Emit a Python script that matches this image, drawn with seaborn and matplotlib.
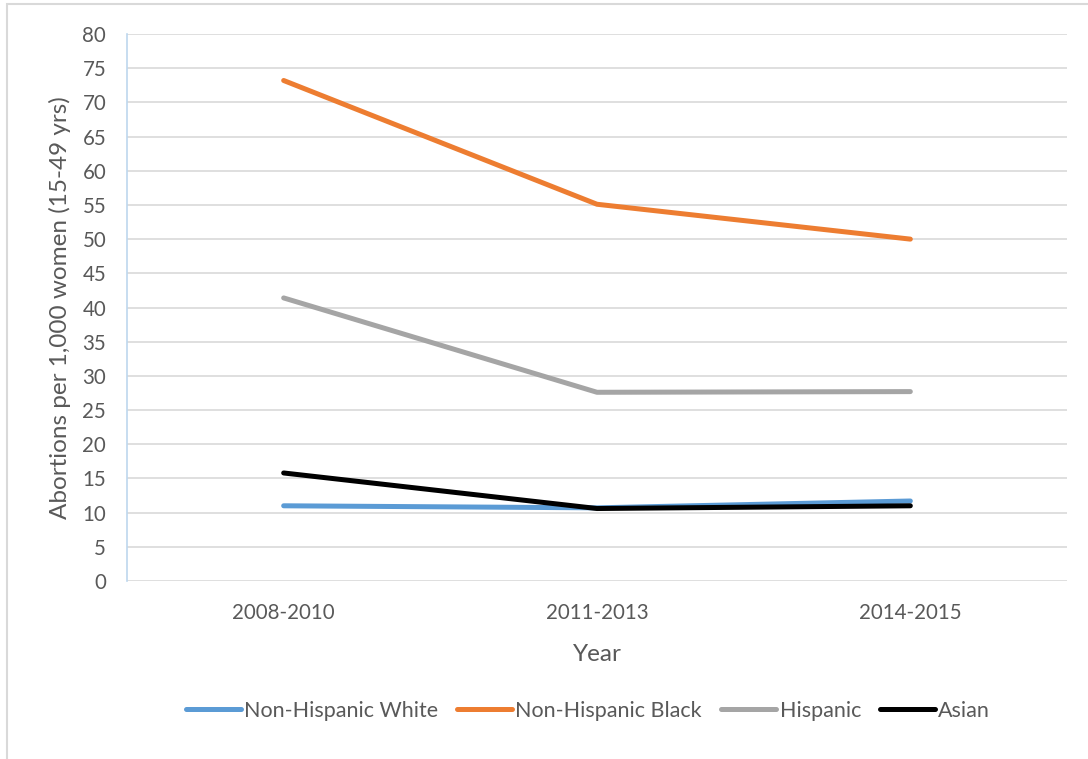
import matplotlib
matplotlib.use("Agg")
import matplotlib.pyplot as plt
import seaborn as sns
import pandas as pd
from matplotlib.patches import Rectangle

# Abortion rates per 1,000 women aged 15-49, by period and race/ethnicity
periods = ["2008-2010", "2011-2013", "2014-2015"]
non_hispanic_white = [11.0, 10.7, 11.7]
non_hispanic_black = [73.2, 55.1, 50.0]
hispanic = [41.4, 27.6, 27.7]
asian = [15.8, 10.6, 11.0]

series_names = ["Non-Hispanic White", "Non-Hispanic Black", "Hispanic", "Asian"]
series_values = [non_hispanic_white, non_hispanic_black, hispanic, asian]
colors = ["#5B9BD5", "#ED7D31", "#A5A5A5", "#000000"]

rows = []
for name, vals in zip(series_names, series_values):
    for i, (p, v) in enumerate(zip(periods, vals)):
        rows.append({"pos": i, "Year": p, "group": name, "rate": v})
df = pd.DataFrame(rows)

sns.set_theme(style="white")
plt.rcParams["font.family"] = ["Lato", "DejaVu Sans"]
text_color = "#595959"

fig = plt.figure(figsize=(10.88, 7.59), dpi=100)
ax = fig.add_axes([127 / 1088, 1 - 581 / 759, (1067 - 127) / 1088, (581 - 34) / 759])

sns.lineplot(data=df, x="pos", y="rate", hue="group", hue_order=series_names,
             palette=colors, linewidth=3.6, ax=ax, legend=True,
             solid_capstyle="round")

ax.set_xlim(-0.5, 2.5)
ax.set_ylim(0, 80)
ax.set_yticks(range(0, 81, 5))
ax.set_xticks(range(len(periods)))
ax.set_xticklabels(periods)
ax.yaxis.grid(True, color="#D9D9D9", linewidth=1.2)
ax.set_axisbelow(True)
for side in ["top", "right", "bottom"]:
    ax.spines[side].set_visible(False)
ax.spines["left"].set_color("#BDD7EE")
ax.spines["left"].set_linewidth(1.2)
ax.tick_params(axis="both", length=0, labelsize=14.8, labelcolor=text_color)
ax.tick_params(axis="x", pad=16)
ax.tick_params(axis="y", pad=15)

ax.set_xlabel("Year", fontsize=17.5, color=text_color, labelpad=15)
ax.set_ylabel("Abortions per 1,000 women (15-49 yrs)", fontsize=17.5,
              color=text_color, labelpad=8)

handles, labels = ax.get_legend_handles_labels()
ax.legend(handles, labels, loc="center", bbox_to_anchor=(588 / 1088, 1 - 711 / 759),
          bbox_transform=fig.transFigure, ncol=4, frameon=False, fontsize=15.5,
          handlelength=2.55, handletextpad=0.15, columnspacing=0.9,
          labelcolor=text_color)

# Chart-area border
fig.patches.append(Rectangle((7 / 1088, -0.1), 1.2, 1 - 4 / 759 + 0.1,
                             transform=fig.transFigure, fill=False,
                             edgecolor="#D9D9D9", linewidth=1.5))

fig.savefig("out.png", dpi=100, facecolor="white")
